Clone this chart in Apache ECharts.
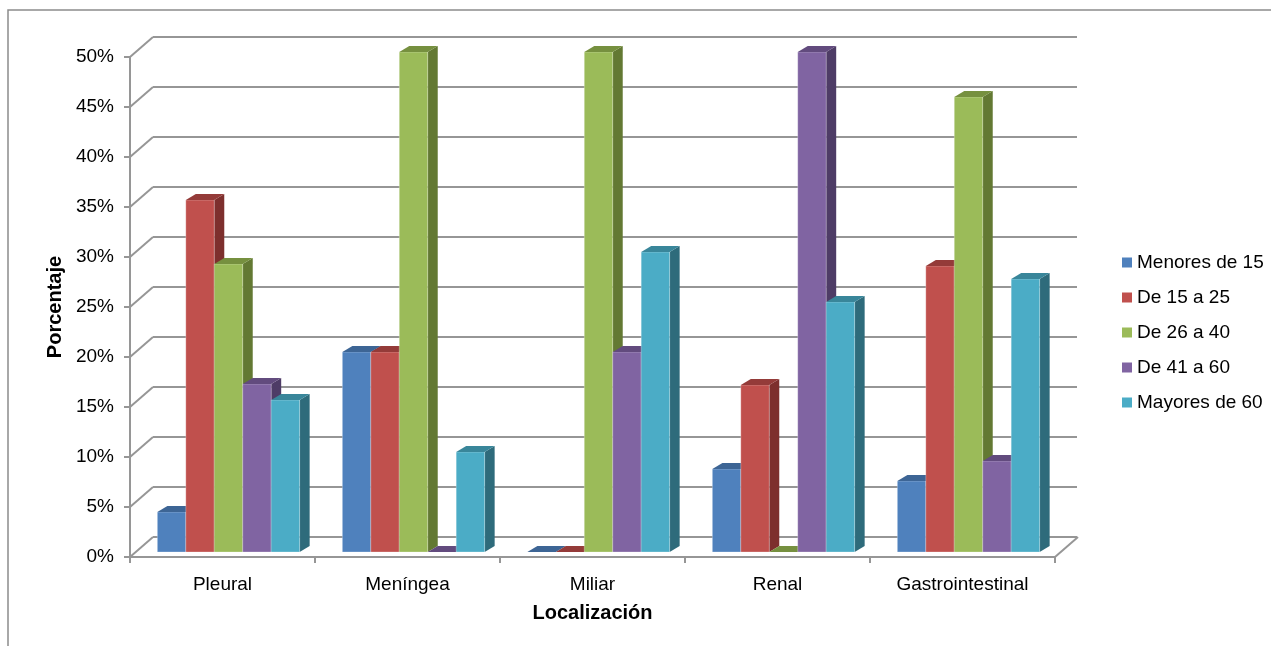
<!DOCTYPE html>
<html>
<head>
<meta charset="utf-8">
<script src="https://cdn.jsdelivr.net/npm/echarts@6/dist/echarts.min.js"></script>
<style>
  html, body { margin: 0; padding: 0; background: #ffffff; }
  #chart { width: 1271px; height: 646px; }
</style>
</head>
<body>
<div id="chart"></div>
<script>
// Localización de la tuberculosis extrapulmonar por grupo de edad (%)
const categories = ['Pleural', 'Meníngea', 'Miliar', 'Renal', 'Gastrointestinal'];
const seriesNames = ['Menores de 15', 'De 15 a 25', 'De 26 a 40', 'De 41 a 60', 'Mayores de 60'];

const menores15 = [4.0, 20, 0, 8.3, 7.1];
const de15a25   = [35.2, 20, 0, 16.7, 28.6];
const de26a40   = [28.8, 50, 50, 0, 45.5];
const de41a60   = [16.8, 0, 20, 50, 9.1];
const mayores60 = [15.2, 10, 30, 25, 27.3];

const yTicks = [0, 5, 10, 15, 20, 25, 30, 35, 40, 45, 50];

const seriesValues = [menores15, de15a25, de26a40, de41a60, mayores60];

// front, top and side shades of each column
const palette = [
  { front: '#4F81BD', top: '#3D6595', side: '#2F5073' },
  { front: '#C0504D', top: '#943B39', side: '#7D2F2D' },
  { front: '#9BBB59', top: '#76903F', side: '#637933' },
  { front: '#8064A2', top: '#624B7E', side: '#4E3C66' },
  { front: '#4BACC6', top: '#39869A', side: '#2E6B7B' }
];

const FONT = 'Liberation Sans, Arial, sans-serif';
const GRID_COLOR = '#969696';
// perspective offset of the back wall
const WALL_DX = 23, WALL_DY = -20;
// front face of the columns sits a little behind the front plane
const FACE_DX = 6, FACE_DY = -5;
// depth of a single column
const BAR_DX = 10, BAR_DY = -6;
const GAP_WIDTH = 1.5;

function columnRenderer(idx) {
  const shade = palette[idx];
  const n = seriesValues.length;
  return function (params, api) {
    const cat = api.value(0);
    const v = api.value(1);
    const base = api.coord([cat, 0]);
    const top = api.coord([cat, v]);
    const band = api.size([1, 0])[0];
    const w = band / (n + GAP_WIDTH);
    const x0 = base[0] - n * w / 2 + idx * w + FACE_DX;
    const x1 = x0 + w;
    const yb = base[1] + FACE_DY;
    const yt = top[1] + FACE_DY;
    const children = [];
    if (yb - yt > 0.5) {
      children.push({
        type: 'polygon',
        shape: { points: [[x1, yt], [x1 + BAR_DX, yt + BAR_DY], [x1 + BAR_DX, yb + BAR_DY], [x1, yb]] },
        style: { fill: shade.side }
      });
      children.push({
        type: 'rect',
        shape: { x: x0, y: yt, width: w, height: yb - yt },
        style: { fill: shade.front, stroke: 'rgba(255,255,255,0.35)', lineWidth: 0.8 }
      });
    }
    children.push({
      type: 'polygon',
      shape: { points: [[x0, yt], [x1, yt], [x1 + BAR_DX, yt + BAR_DY], [x0 + BAR_DX, yt + BAR_DY]] },
      style: { fill: shade.top }
    });
    return { type: 'group', children: children };
  };
}

// diagonal connectors from the front axis to the back wall, plus the right floor edge
function frameRenderer(params, api) {
  const cs = params.coordSys;
  const v = api.value(0);
  const y = api.coord([0, v])[1];
  const lineStyle = { stroke: GRID_COLOR, lineWidth: 2 };
  const children = [{
    type: 'line',
    shape: { x1: cs.x, y1: y, x2: cs.x + WALL_DX, y2: y + WALL_DY },
    style: lineStyle
  }];
  if (v === 0) {
    children.push({
      type: 'line',
      shape: { x1: cs.x + cs.width, y1: y, x2: cs.x + cs.width + WALL_DX, y2: y + WALL_DY },
      style: lineStyle
    });
  }
  return { type: 'group', children: children };
}

const series = [{
  type: 'custom',
  name: 'frame',
  xAxisIndex: 0,
  yAxisIndex: 0,
  z: 1,
  silent: true,
  renderItem: frameRenderer,
  encode: { y: 0 },
  data: yTicks.map(function (t) { return [t]; })
}];

seriesValues.forEach(function (vals, i) {
  series.push({
    type: 'custom',
    name: seriesNames[i],
    xAxisIndex: 0,
    yAxisIndex: 0,
    z: 2,
    itemStyle: { color: palette[i].front },
    renderItem: columnRenderer(i),
    encode: { x: 0, y: 1 },
    data: vals.map(function (v, j) { return [j, v]; })
  });
});

const option = {
  animation: false,
  backgroundColor: '#ffffff',
  graphic: [{
    type: 'rect',
    shape: { x: 8, y: 10, width: 1300, height: 700 },
    style: { fill: 'none', stroke: '#8c8c8c', lineWidth: 1.5 },
    z: -10
  }],
  legend: {
    orient: 'vertical',
    left: 1122,
    top: 253,
    padding: 0,
    itemWidth: 10,
    itemHeight: 10,
    itemGap: 16,
    icon: 'rect',
    data: seriesNames,
    textStyle: { fontFamily: FONT, fontSize: 19, color: '#000', lineHeight: 19 }
  },
  grid: [
    { left: 130, top: 57, width: 925, height: 500, containLabel: false },
    { left: 130 + WALL_DX, top: 57 + WALL_DY, width: 925 - 1, height: 500, containLabel: false }
  ],
  xAxis: [{
    type: 'category',
    gridIndex: 0,
    data: categories,
    boundaryGap: true,
    name: 'Localización',
    nameLocation: 'middle',
    nameGap: 46,
    nameTextStyle: { fontFamily: FONT, fontSize: 20, fontWeight: 'bold', color: '#000' },
    axisLine: { show: true, lineStyle: { color: GRID_COLOR, width: 2 } },
    axisTick: { show: true, length: 6, alignWithLabel: false, lineStyle: { color: GRID_COLOR, width: 2 } },
    axisLabel: { fontFamily: FONT, fontSize: 19, color: '#000', margin: 18 },
    splitLine: { show: false }
  }, {
    type: 'category',
    gridIndex: 1,
    data: categories,
    show: false
  }],
  yAxis: [{
    type: 'value',
    gridIndex: 0,
    min: 0, max: 50, interval: 5,
    name: 'Porcentaje',
    nameLocation: 'middle',
    nameRotate: 90,
    nameGap: 63,
    nameTextStyle: { fontFamily: FONT, fontSize: 20, fontWeight: 'bold', color: '#000' },
    axisLine: { show: true, lineStyle: { color: GRID_COLOR, width: 2 } },
    axisTick: { show: true, length: 6, lineStyle: { color: GRID_COLOR, width: 2 } },
    axisLabel: { fontFamily: FONT, fontSize: 19, color: '#000', margin: 16, formatter: '{value}%' },
    splitLine: { show: false }
  }, {
    type: 'value',
    gridIndex: 1,
    min: 0, max: 50, interval: 5,
    axisLine: { show: false },
    axisTick: { show: false },
    axisLabel: { show: false },
    splitLine: { show: true, lineStyle: { color: GRID_COLOR, width: 2 } }
  }],
  series: series
};

const chart = echarts.init(document.getElementById('chart'), null, { renderer: 'canvas' });
chart.setOption(option);
</script>
</body>
</html>
